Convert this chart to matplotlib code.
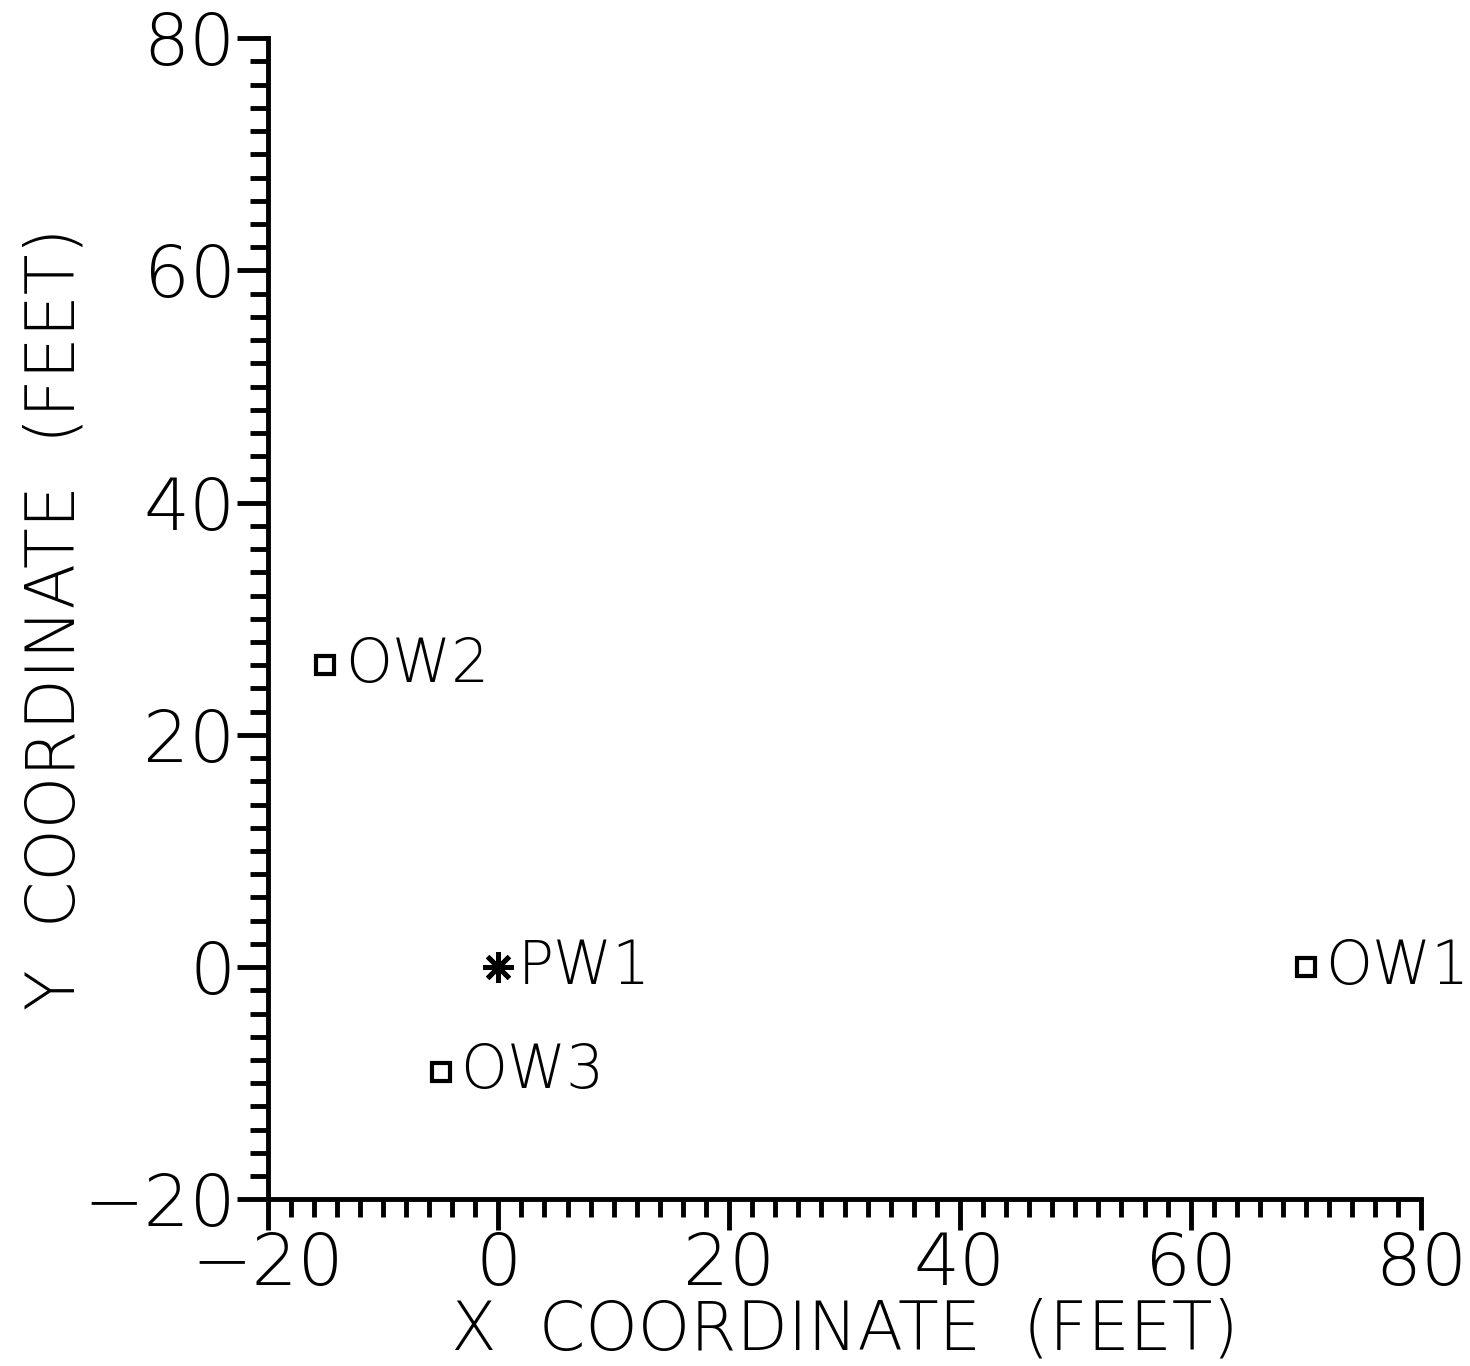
import matplotlib
matplotlib.use("Agg")
import matplotlib.pyplot as plt
from matplotlib.ticker import MultipleLocator

# well locations (feet)
obs_names = ["OW1", "OW2", "OW3"]
obs_x = [70, -15, -5]
obs_y = [0, 26, -9]
pump_names = ["PW1"]
pump_x = [0]
pump_y = [0]

plt.rcParams['font.family'] = ['DejaVu Sans']
plt.rcParams['font.weight'] = 'light'
plt.rcParams['axes.labelweight'] = 'light'

fig = plt.figure(figsize=(14.7, 13.66), dpi=100)
ax = fig.add_axes([0.182, 0.122, 0.785, 0.850])

ax.plot(obs_x, obs_y, linestyle='none', marker='s', markersize=13,
        markerfacecolor='white', markeredgecolor='black', markeredgewidth=3)
ax.plot(pump_x, pump_y, linestyle='none', marker=(8, 2, 0), markersize=22,
        color='black', markeredgewidth=3.5)

for name, x, y in zip(obs_names + pump_names, obs_x + pump_x, obs_y + pump_y):
    ax.annotate(name, (x, y), xytext=(14, 0), textcoords='offset points',
                va='center', ha='left', fontsize=43, annotation_clip=False)

ax.set_xlim(-20, 80)
ax.set_ylim(-20, 80)
ax.xaxis.set_major_locator(MultipleLocator(20))
ax.xaxis.set_minor_locator(MultipleLocator(2))
ax.yaxis.set_major_locator(MultipleLocator(20))
ax.yaxis.set_minor_locator(MultipleLocator(2))

for side in ['top', 'right']:
    ax.spines[side].set_visible(False)
for side in ['left', 'bottom']:
    ax.spines[side].set_linewidth(3.5)

ax.tick_params(which='major', length=22, width=3.5, labelsize=52, pad=1)
ax.tick_params(which='minor', length=13, width=3.5)

ax.set_xlabel('X  COORDINATE  (FEET)', fontsize=48, labelpad=-2)
ax.set_ylabel('Y  COORDINATE  (FEET)', fontsize=48, labelpad=-4)

fig.savefig('out.png', dpi=100)
